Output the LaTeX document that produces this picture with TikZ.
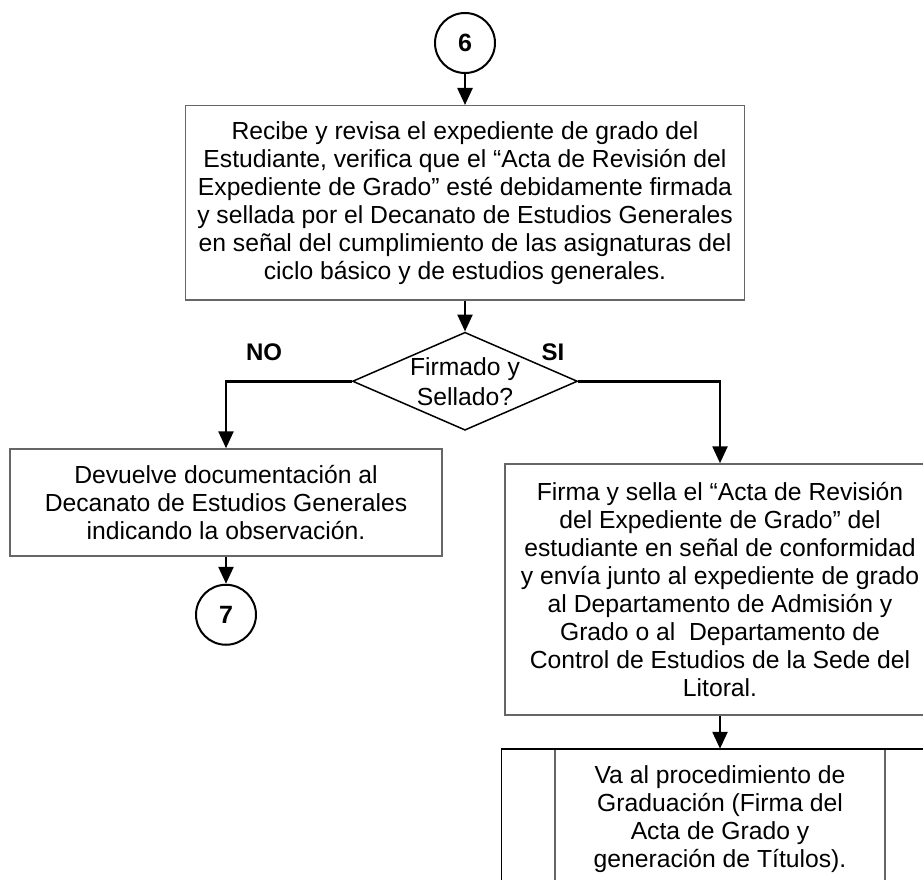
\documentclass[tikz,border=0pt]{standalone}
\usepackage{fontspec}
\setmainfont{Liberation Sans}
\usetikzlibrary{arrows.meta,positioning,shapes.geometric}
\tikzset{
  box/.style={draw=black!60, line width=1.5pt, rectangle, align=center, font=\fontsize{24.7}{28}\selectfont, inner sep=0pt},
  dbox/.style={draw, line width=1.5pt, diamond, aspect=2.3, align=center, font=\fontsize{24.7}{30}\selectfont, inner sep=0pt, minimum width=225pt, minimum height=98pt},
  conn/.style={draw, circle, line width=2pt, minimum size=60pt, inner sep=0pt, font=\bfseries\fontsize{25}{28}\selectfont},
  arr/.style={-{Triangle[length=17pt, width=15pt]}, line width=2.5pt},
  lbl/.style={font=\bfseries\fontsize{24}{28}\selectfont, inner sep=0pt},
}
\begin{document}
\begin{tikzpicture}[x=1pt, y=-1pt, node distance=31pt]
\useasboundingbox (0,0) rectangle (923,880);
\clip (0,0) rectangle (923,880);
\node[conn] (c6) at (465,43) {6};
\node[box, below=of c6, minimum width=559pt, minimum height=194pt] (rev) {Recibe y revisa el expediente de grado del\\Estudiante, verifica que el “Acta de Revisión del\\Expediente de Grado” esté debidamente firmada\\y sellada por el Decanato de Estudios Generales\\en señal del cumplimiento de las asignaturas del\\ciclo básico y de estudios generales.};
\node[dbox, below=of rev] (dec) {Firmado y\\Sellado?};
\node[box, minimum width=432pt, minimum height=107pt] (dev) at (226,502.5) {Devuelve documentación al\\Decanato de Estudios Generales\\indicando la observación.};
\node[conn, below=27pt of dev] (c7) {7};
\node[box, minimum width=430pt, minimum height=251pt] (firma) at (720,589.5) {Firma y sella el “Acta de Revisión\\del Expediente de Grado” del\\estudiante en señal de conformidad\\y envía junto al expediente de grado\\al Departamento de Admisión y\\Grado o al\ \ Departamento de\\Control de Estudios de la Sede del\\Litoral.};
\node[box, below=33pt of firma, minimum width=330pt, minimum height=140pt] (grad) {Va al procedimiento de\\Graduación (Firma del\\Acta de Grado y\\generación de Títulos).};
\draw[line width=1.5pt] ([xshift=-53pt]grad.north west) rectangle ([xshift=53pt]grad.south east);
\node[lbl] (no) at (264,352) {NO};
\node[lbl] (si) at (553,352) {SI};
\draw[arr] (c6) -- (rev);
\draw[arr] (rev) -- (dec);
\draw[arr] (dec.west) -| (dev.north);
\draw[arr] (dec.east) -| (firma.north);
\draw[arr] (dev) -- (c7);
\draw[arr] (firma) -- (grad);
\end{tikzpicture}
\end{document}
